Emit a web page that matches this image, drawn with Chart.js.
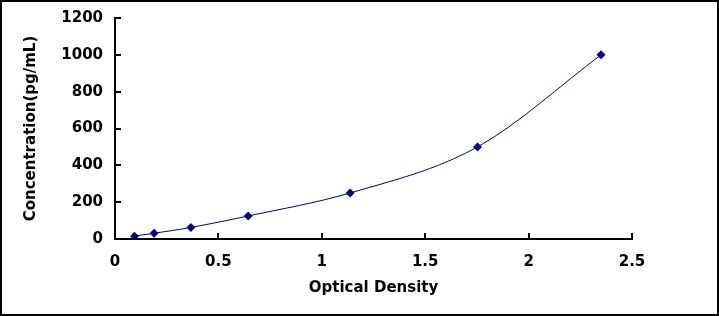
<!DOCTYPE html>
<html>
<head>
<meta charset="utf-8">
<script src="https://cdn.jsdelivr.net/npm/chart.js@4/dist/chart.umd.min.js"></script>
<style>
  html, body { margin: 0; padding: 0; background: #fff; }
  #wrap { width: 719px; height: 316px; position: relative; }
</style>
</head>
<body>
<div id="wrap"><canvas id="stdCurve" width="719" height="316"></canvas></div>
<script>
// standard curve values
const odValues = [0.094, 0.189, 0.367, 0.644, 1.137, 1.753, 2.35];
const concValues = [15.6, 31.25, 62.5, 125, 250, 500, 1000];
const xTickValues = [0, 0.5, 1, 1.5, 2, 2.5];
const yTickValues = [0, 200, 400, 600, 800, 1000, 1200];

const navy = '#000080';
const labelFont = { family: "'DejaVu Sans', sans-serif", size: 15, weight: 'bold' };

// ticks in this chart point inwards, so draw them by hand from the scales
const innerTicks = {
  id: 'innerTicks',
  afterDraw(chart) {
    const { ctx: c, scales: { x, y } } = chart;
    c.save();
    c.strokeStyle = '#000';
    c.lineWidth = 2;
    c.beginPath();
    xTickValues.forEach(v => {
      const px = Math.round(x.getPixelForValue(v));
      c.moveTo(px, y.bottom);
      c.lineTo(px, y.bottom - 6);
    });
    yTickValues.forEach(v => {
      const py = Math.round(y.getPixelForValue(v));
      c.moveTo(x.left, py);
      c.lineTo(x.left + 6, py);
    });
    c.stroke();
    // frame round the picture
    c.strokeRect(1, 1, chart.width - 2, chart.height - 2);
    c.restore();
  }
};

new Chart(document.getElementById('stdCurve'), {
  type: 'line',
  data: {
    datasets: [{
      data: odValues.map((v, i) => ({ x: v, y: concValues[i] })),
      borderColor: navy,
      borderWidth: 1,
      backgroundColor: navy,
      pointStyle: 'rectRot',
      pointRadius: 4.5,
      pointBorderWidth: 0,
      cubicInterpolationMode: 'monotone',
      fill: false
    }]
  },
  options: {
    responsive: false,
    animation: false,
    layout: { padding: { top: 18, right: 87, left: 0, bottom: 0 } },
    plugins: { legend: { display: false }, tooltip: { enabled: false } },
    scales: {
      x: {
        type: 'linear',
        min: 0, max: 2.5,
        afterBuildTicks(s) { s.ticks = xTickValues.map(v => ({ value: v })); },
        afterFit(s) { s.height = 77; s.paddingLeft = 0; s.paddingRight = 0; },
        border: { color: '#000', width: 2 },
        grid: { display: false, drawTicks: false },
        ticks: { color: '#000', font: labelFont, padding: 14, maxRotation: 0, callback: v => String(v) },
        title: { display: true, text: 'Optical Density', color: '#000', font: labelFont, padding: { top: 0, bottom: 19 } }
      },
      y: {
        type: 'linear',
        min: 0, max: 1200,
        afterBuildTicks(s) { s.ticks = yTickValues.map(v => ({ value: v })); },
        afterFit(s) { s.width = 115; s.paddingTop = 0; s.paddingBottom = 0; },
        border: { color: '#000', width: 2 },
        grid: { display: false, drawTicks: false },
        ticks: { color: '#000', font: labelFont, padding: 12, callback: v => String(v) },
        title: { display: true, text: 'Concentration(pg/mL)', color: '#000', font: labelFont, padding: { top: 22, bottom: 0 } }
      }
    }
  },
  plugins: [innerTicks]
});
</script>
</body>
</html>
